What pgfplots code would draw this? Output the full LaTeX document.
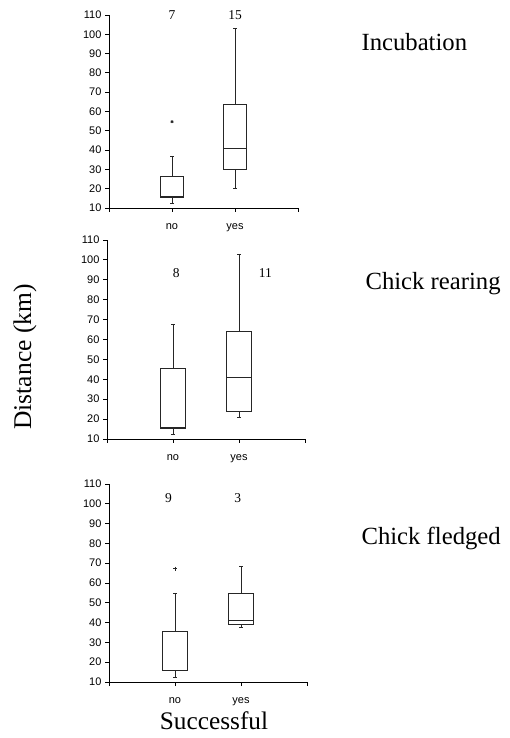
\documentclass[border=0pt]{standalone}
\usepackage{fontspec}
\setmainfont{Liberation Serif}
\newfontfamily\arial{Liberation Sans}
\usepackage{pgfplots}
\pgfplotsset{compat=1.18}
\usepgfplotslibrary{statistics}
\pgfplotsset{
  panel/.style={
    scale only axis, anchor=south west,
    boxplot/draw direction=y,
    xmin=0, xmax=3, ymin=10, ymax=110,
    axis x line*=bottom, axis y line*=left,
    axis line style={line width=0.8pt, black},
    xtick={0,1,2,3}, xticklabels={,no,yes,},
    ytick={10,20,...,110},
    tick align=outside, major tick length=4pt,
    tick style={black, line width=0.8pt},
    /pgf/number format/assume math mode=true,
    tick label style={font=\arial\fontsize{11}{12}\selectfont},
    xticklabel style={yshift=-8pt},
    clip mode=individual,
  },
  bx/.style={black!85, line width=0.8pt, solid},
}
\begin{document}
\begin{tikzpicture}
\path (0pt,0pt) rectangle (510pt,738pt);
% Panel 1: Incubation
\begin{axis}[panel, width=189pt, height=193pt, at={(109pt,530pt)}]
\addplot[bx, mark=asterisk, mark size=1.5pt, boxplot prepared={draw position=1, lower whisker=12.6, lower quartile=15.5, median=16, upper quartile=26.3, upper whisker=36.7, box extend=0.37, whisker extend=0.06}] table[row sep=\\, y index=0] {data\\ 54.7\\};
\addplot[bx, boxplot prepared={draw position=2, lower whisker=20.3, lower quartile=30.1, median=41, upper quartile=63.7, upper whisker=102.9, box extend=0.37, whisker extend=0.06}] coordinates {};
\node[font=\fontsize{13.5}{15}\selectfont] at (axis cs:1,110) {7};
\node[font=\fontsize{13.5}{15}\selectfont] at (axis cs:2,110) {15};
\end{axis}
% Panel 2: Chick rearing
\begin{axis}[panel, width=198pt, height=199pt, at={(107pt,299pt)}]
\addplot[bx, boxplot prepared={draw position=1, lower whisker=12.5, lower quartile=15.4, median=15.7, upper quartile=45.5, upper whisker=67.6, box extend=0.37, whisker extend=0.06}] coordinates {};
\addplot[bx, boxplot prepared={draw position=2, lower whisker=20.7, lower quartile=23.7, median=41.2, upper quartile=63.9, upper whisker=103, box extend=0.37, whisker extend=0.06}] coordinates {};
\node[font=\fontsize{13.5}{15}\selectfont] at (axis cs:1.05,93.5) {8};
\node[font=\fontsize{13.5}{15}\selectfont] at (axis cs:2.4,93.5) {11};
\end{axis}
% Panel 3: Chick fledged
\begin{axis}[panel, width=198pt, height=198pt, at={(109pt,56pt)}]
\addplot[bx, mark=+, mark size=2pt, boxplot prepared={draw position=1, lower whisker=12.2, lower quartile=15.7, median=16, upper quartile=35.8, upper whisker=54.7, box extend=0.37, whisker extend=0.06}] table[row sep=\\, y index=0] {data\\ 67.3\\};
\addplot[bx, boxplot prepared={draw position=2, lower whisker=37.8, lower quartile=39.2, median=41.2, upper quartile=54.7, upper whisker=68.5, box extend=0.37, whisker extend=0.06}] coordinates {};
\node[font=\fontsize{13.5}{15}\selectfont] at (axis cs:0.9,103) {9};
\node[font=\fontsize{13.5}{15}\selectfont] at (axis cs:1.95,103) {3};
\end{axis}
% Titles
\node[anchor=base west, font=\fontsize{24.7}{28}\selectfont] at (358pt,687pt) {Incubation};
\node[anchor=base west, font=\fontsize{24.7}{28}\selectfont] at (362pt,448pt) {Chick rearing};
\node[anchor=base west, font=\fontsize{24.7}{28}\selectfont] at (358pt,193pt) {Chick fledged};
\node[rotate=90, font=\fontsize{25.5}{28}\selectfont] at (25pt,381pt) {Distance (km)};
\node[anchor=base, font=\fontsize{25.3}{28}\selectfont] at (214pt,9pt) {Successful};
\end{tikzpicture}
\end{document}
